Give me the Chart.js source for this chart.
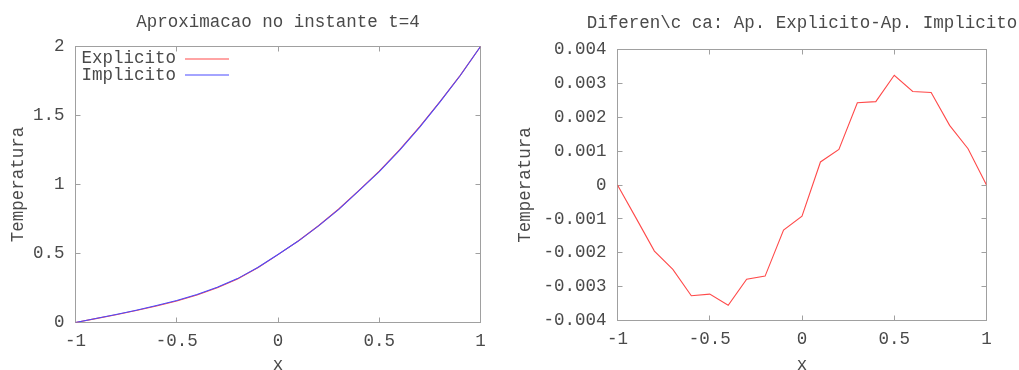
<!DOCTYPE html>
<html>
<head>
<meta charset="utf-8">
<script src="https://cdn.jsdelivr.net/npm/chart.js@4.4.0/dist/chart.umd.min.js"></script>
<style>
  html, body { margin: 0; padding: 0; background: #ffffff; }
  #wrap { position: relative; width: 1019px; height: 370px; overflow: hidden; }
  canvas { position: absolute; top: 0; }
  #c1 { left: 0; }
  #c2 { left: 509px; }
</style>
</head>
<body>
<div id="wrap">
  <canvas id="c1" width="509" height="370"></canvas>
  <canvas id="c2" width="510" height="370"></canvas>
</div>
<script>
// Grid points in x
const xs = [-1, -0.9, -0.8, -0.7, -0.6, -0.5, -0.4, -0.3, -0.2, -0.1, 0,
            0.1, 0.2, 0.3, 0.4, 0.5, 0.6, 0.7, 0.8, 0.9, 1];

// Temperature at t=4, explicit scheme
const explicito = [0, 0.0280, 0.0561, 0.0865, 0.1197, 0.1558, 0.1995, 0.2522, 0.3153, 0.3967, 0.4921,
                   0.5907, 0.7011, 0.8224, 0.9575, 1.0972, 1.2508, 1.4187, 1.6008, 1.7911, 2];

// Temperature at t=4, implicit scheme
const implicito = [0, 0.029, 0.058, 0.089, 0.123, 0.159, 0.203, 0.255, 0.318, 0.398, 0.493,
                   0.590, 0.700, 0.820, 0.955, 1.094, 1.248, 1.416, 1.599, 1.790, 2];

// Explicit minus implicit
const diferenca = [0, -0.00097, -0.00195, -0.00249, -0.00327, -0.00322, -0.00355, -0.00278, -0.00269, -0.00133, -0.00092,
                   0.00068, 0.00105, 0.00243, 0.00246, 0.00324, 0.00276, 0.00273, 0.00176, 0.00107, 0];

// Tick values and labels
const xTickValues = [-1, -0.5, 0, 0.5, 1];
const xTickLabels = ['-1', '-0.5', '0', '0.5', '1'];
const tempTickValues = [0, 0.5, 1, 1.5, 2];
const tempTickLabels = ['0', '0.5', '1', '1.5', '2'];
const diffTickValues = [-0.004, -0.003, -0.002, -0.001, 0, 0.001, 0.002, 0.003, 0.004];
const diffTickLabels = ['-0.004', '-0.003', '-0.002', '-0.001', '0', '0.001', '0.002', '0.003', '0.004'];

const titleLeft = 'Aproximacao no instante t=4';
const titleRight = 'Diferen\\c ca: Ap. Explicito-Ap. Implicito';
const xTitle = 'x';
const yTitle = 'Temperatura';

const FONT = "'Liberation Mono', 'DejaVu Sans Mono', monospace";
const FSIZE = 17.5;
const TEXT = '#4a4a4a';
const BORDER = '#a0a0a0';
const RED = '#ff4a4a';
const BLUE = '#4a4aff';
const SERIES_COLORS = [RED, BLUE];

Chart.defaults.font.family = FONT;
Chart.defaults.font.size = FSIZE;
Chart.defaults.color = TEXT;

const toPoints = (ys) => xs.map((x, i) => ({ x: x, y: ys[i] }));

// Full border with inward ticks on all four sides
const frame = {
  id: 'frame',
  beforeDatasetsDraw(chart) {
    const { ctx, chartArea: a, scales: { x, y } } = chart;
    const L = 5;
    ctx.save();
    ctx.strokeStyle = BORDER;
    ctx.lineWidth = 1;
    ctx.beginPath();
    x.ticks.forEach(t => {
      const p = Math.round(x.getPixelForValue(t.value) - 0.5) + 0.5;
      ctx.moveTo(p, a.bottom); ctx.lineTo(p, a.bottom - L);
      ctx.moveTo(p, a.top); ctx.lineTo(p, a.top + L);
    });
    y.ticks.forEach(t => {
      const p = Math.round(y.getPixelForValue(t.value) - 0.5) + 0.5;
      ctx.moveTo(a.left, p); ctx.lineTo(a.left + L, p);
      ctx.moveTo(a.right, p); ctx.lineTo(a.right - L, p);
    });
    ctx.stroke();
    ctx.strokeRect(a.left, a.top, a.right - a.left, a.bottom - a.top);
    ctx.restore();
  }
};

// Plot heading above the frame
const heading = {
  id: 'heading',
  afterDraw(chart, args, opts) {
    const { ctx, chartArea: a } = chart;
    ctx.save();
    ctx.font = FSIZE + 'px ' + FONT;
    ctx.fillStyle = TEXT;
    ctx.textAlign = 'center';
    ctx.textBaseline = 'middle';
    ctx.fillText(opts.text, (a.left + a.right) / 2, opts.y);
    ctx.restore();
  }
};

// Key in the upper left: label, then a line sample
const key = {
  id: 'key',
  afterDraw(chart, args, opts) {
    if (!opts.show) return;
    const { ctx, chartArea: a } = chart;
    chart.data.datasets.forEach((ds, i) => {
      const yy = a.top + 12 + i * 16.5;
      ctx.save();
      ctx.font = FSIZE + 'px ' + FONT;
      ctx.textAlign = 'right';
      ctx.textBaseline = 'middle';
      ctx.fillStyle = TEXT;
      ctx.fillText(ds.label, a.left + 100.5, yy);
      ctx.restore();
      ctx.save();
      ctx.strokeStyle = SERIES_COLORS[i];
      ctx.lineWidth = 1.1;
      ctx.beginPath();
      ctx.moveTo(a.left + 109.5, Math.round(yy));
      ctx.lineTo(a.left + 153.5, Math.round(yy));
      ctx.stroke();
      ctx.restore();
    });
  }
};

function makeScales(yMin, yMax, yVals, yLabels, yWidth, xHeight, yTitlePad) {
  return {
    x: {
      type: 'linear',
      min: -1, max: 1,
      afterBuildTicks: s => { s.ticks = xTickValues.map(v => ({ value: v })); },
      afterFit: s => { s.height = xHeight; },
      ticks: {
        padding: 8.6,
        maxRotation: 0,
        autoSkip: false,
        callback: (v) => xTickLabels[xTickValues.indexOf(v)]
      },
      grid: { display: false, drawTicks: false },
      border: { display: false },
      title: { display: true, text: xTitle, padding: { top: 0, bottom: -5.5 } }
    },
    y: {
      type: 'linear',
      min: yMin, max: yMax,
      afterBuildTicks: s => { s.ticks = yVals.map(v => ({ value: v })); },
      afterFit: s => { s.width = yWidth; },
      ticks: {
        padding: 11,
        autoSkip: false,
        callback: (v) => yLabels[yVals.findIndex(t => Math.abs(t - v) < 1e-9)]
      },
      grid: { display: false, drawTicks: false },
      border: { display: false },
      title: { display: true, text: yTitle, padding: { top: yTitlePad, bottom: 0 } }
    }
  };
}

new Chart(document.getElementById('c1'), {
  type: 'line',
  data: {
    datasets: [
      { label: 'Explicito', data: toPoints(explicito), borderColor: RED, borderWidth: 1.1,
        pointRadius: 0, tension: 0, order: 1 },
      { label: 'Implicito', data: toPoints(implicito), borderColor: BLUE, borderWidth: 1.1,
        pointRadius: 0, tension: 0, order: 0 }
    ]
  },
  options: {
    responsive: false,
    animation: false,
    layout: { padding: { top: 46.5, right: 28.5, bottom: 0, left: 0 } },
    scales: makeScales(0, 2, tempTickValues, tempTickLabels, 75.5, 47.5, 8),
    plugins: {
      legend: { display: false },
      tooltip: { enabled: false },
      heading: { text: titleLeft, y: 22 },
      key: { show: true }
    }
  },
  plugins: [frame, heading, key]
});

new Chart(document.getElementById('c2'), {
  type: 'line',
  data: {
    datasets: [
      { label: 'Diferenca', data: toPoints(diferenca), borderColor: RED, borderWidth: 1.1,
        pointRadius: 0, tension: 0 }
    ]
  },
  options: {
    responsive: false,
    animation: false,
    layout: { padding: { top: 49.5, right: 32.5, bottom: 0, left: 0 } },
    scales: makeScales(-0.004, 0.004, diffTickValues, diffTickLabels, 108.5, 49.5, 6),
    plugins: {
      legend: { display: false },
      tooltip: { enabled: false },
      heading: { text: titleRight, y: 23 },
      key: { show: false }
    }
  },
  plugins: [frame, heading, key]
});
</script>
</body>
</html>
